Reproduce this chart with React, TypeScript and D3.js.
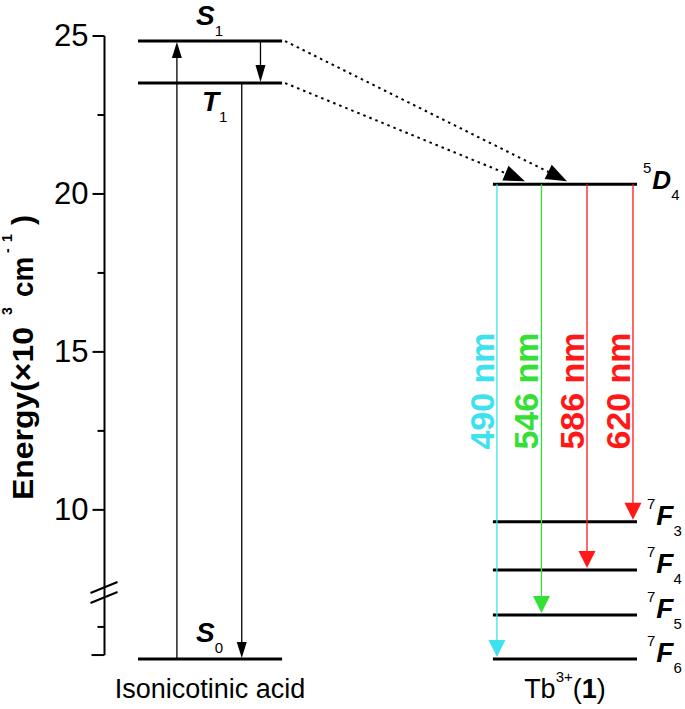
import React from "react";
import * as d3 from "d3";

// ---------- data ----------
const yMajorTicks = [10, 15, 20, 25];
const yMinorTicks = [12.5, 17.5, 22.5, 2.68];
const yAxisBottom = 0.33;
const yBreakLow = 5.6;
const yBreakHigh = 7.4;

const groups = ["Isonicotinic acid", "Tb3+(1)"];

const ligandLevelNames = ["S1", "T1", "S0"];
const ligandLevelEnergies = [24.84, 23.51, 0];

const tbLevelNames = ["5D4", "7F3", "7F4", "7F5", "7F6"];
const tbLevelEnergies = [20.31, 9.62, 8.1, 3.68, 0];

const emissionWavelengths = [490, 546, 586, 620];
const emissionTargets = ["7F6", "7F5", "7F4", "7F3"];
const emissionColors = ["#3ee2ef", "#33e033", "#ff1818", "#ff1818"];

// ---------- layout ----------
const W = 685;
const H = 709;

const y = d3
  .scaleLinear()
  .domain([0, yBreakLow, yBreakHigh, 25])
  .range([659, 592, 592, 36]);

const xBand = d3.scaleBand<string>().domain(groups).range([138, 637]).paddingInner(0.594).paddingOuter(0);
const bw = xBand.bandwidth();
const lx0 = xBand(groups[0]) as number;
const tx0 = xBand(groups[1]) as number;
const axisX = 104.5;

function head(tx: number, ty: number, dx: number, dy: number, len: number, hw: number) {
  const m = Math.hypot(dx, dy);
  const ux = dx / m, uy = dy / m;
  const bx = tx - ux * len, by = ty - uy * len;
  const nx = -uy, ny = ux;
  return `${tx},${ty} ${bx + nx * hw},${by + ny * hw} ${bx - nx * hw},${by - ny * hw}`;
}

const ligE = (n: string) => ligandLevelEnergies[ligandLevelNames.indexOf(n)];
const tbE = (n: string) => tbLevelEnergies[tbLevelNames.indexOf(n)];

const FONT = "Arial, 'Liberation Sans', Helvetica, sans-serif";

function LevelLabel({ x, yb, main, sub, sup, size = 28 }: any) {
  return (
    <text x={x} y={yb} fontFamily={FONT}>
      {sup !== undefined && (
        <tspan fontSize={15} dy={-16}>{sup}</tspan>
      )}
      <tspan fontSize={size} fontWeight="bold" fontStyle="italic" dy={sup !== undefined ? 16 : 0} dx={sup !== undefined ? 1 : 0}>
        {main}
      </tspan>
      <tspan fontSize={15} dy={11} dx={0}>{sub}</tspan>
    </text>
  );
}

export default function App() {
  const upX = lx0 + bw * 0.27;
  const downS1T1X = lx0 + bw * 0.85;
  const t1s0X = lx0 + bw * 0.72;
  const emX = [0.028, 0.337, 0.653, 0.972].map((f) => tx0 + bw * f);

  const d4y = y(tbE("5D4"));
  const s1y = y(ligE("S1"));
  const t1y = y(ligE("T1"));
  const s0y = y(ligE("S0"));

  // dotted energy transfer arrows
  const transfers = [
    { sx: lx0 + bw + 3, sy: s1y, tx: tx0 + bw * 0.514, ty: d4y - 3 },
    { sx: lx0 + bw + 3, sy: t1y, tx: tx0 + bw * 0.222, ty: d4y - 3 },
  ];

  return (
    <svg width={W} height={H} style={{ position: "absolute", left: 0, top: 0, background: "#fff" }}>
      <rect width={W} height={H} fill="#fff" />
      {/* axis */}
      <line x1={axisX} x2={axisX} y1={y(25)} y2={y(yAxisBottom)} stroke="#000" strokeWidth={2} />
      {yMajorTicks.map((t) => (
        <g key={"M" + t}>
          <line x1={axisX - 12} x2={axisX} y1={y(t)} y2={y(t)} stroke="#000" strokeWidth={2} />
          <text x={axisX - 16} y={y(t) + 10} textAnchor="end" fontFamily={FONT} fontSize={31}>
            {t}
          </text>
        </g>
      ))}
      <line x1={axisX - 13} x2={axisX} y1={y(yAxisBottom)} y2={y(yAxisBottom)} stroke="#000" strokeWidth={2} />
      {yMinorTicks.map((t) => (
        <line key={"m" + t} x1={axisX - 7} x2={axisX} y1={y(t)} y2={y(t)} stroke="#000" strokeWidth={2} />
      ))}
      {/* axis break */}
      {[-5, 5].map((o) => (
        <line key={"b" + o} x1={axisX - 14} x2={axisX + 13} y1={y(yBreakHigh) + o + 6} y2={y(yBreakHigh) + o - 5} stroke="#000" strokeWidth={2} />
      ))}
      {/* axis title */}
      <g transform={`translate(33,500) rotate(-90)`} fontFamily={FONT} fontWeight="bold">
        <text x={0} y={0} fontSize={30} textLength={173} lengthAdjust="spacingAndGlyphs">Energy(×10</text>
        <text x={185} y={-21} fontSize={14}>3</text>
        <text x={203} y={0} fontSize={30} textLength={40} lengthAdjust="spacingAndGlyphs">cm</text>
        <text x={247} y={-21} fontSize={14}>-</text>
        <text x={258} y={-21} fontSize={14}>1</text>
        <text x={275} y={0} fontSize={30}>)</text>
      </g>

      {/* ligand levels */}
      {ligandLevelNames.map((n) => (
        <line key={n} x1={lx0} x2={lx0 + bw} y1={y(ligE(n))} y2={y(ligE(n))} stroke="#000" strokeWidth={3} />
      ))}
      {/* Tb levels */}
      {tbLevelNames.map((n) => (
        <line key={n} x1={tx0} x2={tx0 + bw} y1={y(tbE(n))} y2={y(tbE(n))} stroke="#000" strokeWidth={3} />
      ))}

      {/* ligand arrows */}
      <line x1={upX} x2={upX} y1={s0y} y2={s1y + 10} stroke="#000" strokeWidth={1.3} />
      <polygon points={head(upX, s1y + 1, 0, -1, 16, 5)} fill="#000" />
      <line x1={downS1T1X} x2={downS1T1X} y1={s1y} y2={t1y - 10} stroke="#000" strokeWidth={1.3} />
      <polygon points={head(downS1T1X, t1y - 1, 0, 1, 17, 5)} fill="#000" />
      <line x1={t1s0X} x2={t1s0X} y1={t1y} y2={s0y - 10} stroke="#000" strokeWidth={1.3} />
      <polygon points={head(t1s0X, s0y - 1, 0, 1, 16, 5)} fill="#000" />

      {/* energy transfer dotted */}
      {transfers.map((t, i) => (
        <g key={"tr" + i}>
          <line x1={t.sx} y1={t.sy} x2={t.tx - (t.tx - t.sx) * 0.05} y2={t.ty - (t.ty - t.sy) * 0.05} stroke="#000" strokeWidth={2} strokeDasharray="2.5,4" />
          <polygon points={head(t.tx, t.ty, t.tx - t.sx, t.ty - t.sy, 21, 8)} fill="#000" />
        </g>
      ))}

      {/* emissions */}
      {emissionWavelengths.map((w, i) => {
        const x = emX[i];
        const ty = y(tbE(emissionTargets[i]));
        return (
          <g key={"e" + w}>
            <line x1={x} x2={x} y1={d4y} y2={ty - 10} stroke={emissionColors[i]} strokeWidth={1.3} />
            <polygon points={head(x, ty - 2, 0, 1, 17, 8.5)} fill={emissionColors[i]} />
            <text transform={`translate(${x - 3},391) rotate(-90)`} textAnchor="middle" fontFamily={FONT} fontWeight="bold" fontSize={34} fill={emissionColors[i]}>
              {w} nm
            </text>
          </g>
        );
      })}

      {/* ligand level labels */}
      <LevelLabel x={lx0 + 58} yb={s1y - 16} main="S" sub="1" />
      <LevelLabel x={lx0 + 64} yb={t1y + 28} main="T" sub="1" />
      <LevelLabel x={lx0 + 58} yb={s0y - 17} main="S" sub="0" />

      {/* Tb level labels */}
      {tbLevelNames.map((n) => (
        <LevelLabel
          key={"l" + n}
          x={tx0 + bw + (n[1] === "F" ? 10 : 6)}
          yb={y(tbE(n)) + (n[1] === "F" ? 3 : 5)}
          sup={n[0]}
          main={n[1]}
          sub={n[2]}
          size={n[1] === "F" ? 28 : 26}
        />
      ))}

      {/* group labels */}
      <text x={lx0 + bw / 2} y={698} textAnchor="middle" fontFamily={FONT} fontSize={27}>
        Isonicotinic acid
      </text>
      <text x={tx0 + bw / 2} y={698} textAnchor="middle" fontFamily={FONT} fontSize={27}>
        <tspan>Tb</tspan>
        <tspan fontSize={15} dy={-16}>3+</tspan>
        <tspan dy={16}>(</tspan>
        <tspan fontWeight="bold">1</tspan>
        <tspan>)</tspan>
      </text>
    </svg>
  );
}
